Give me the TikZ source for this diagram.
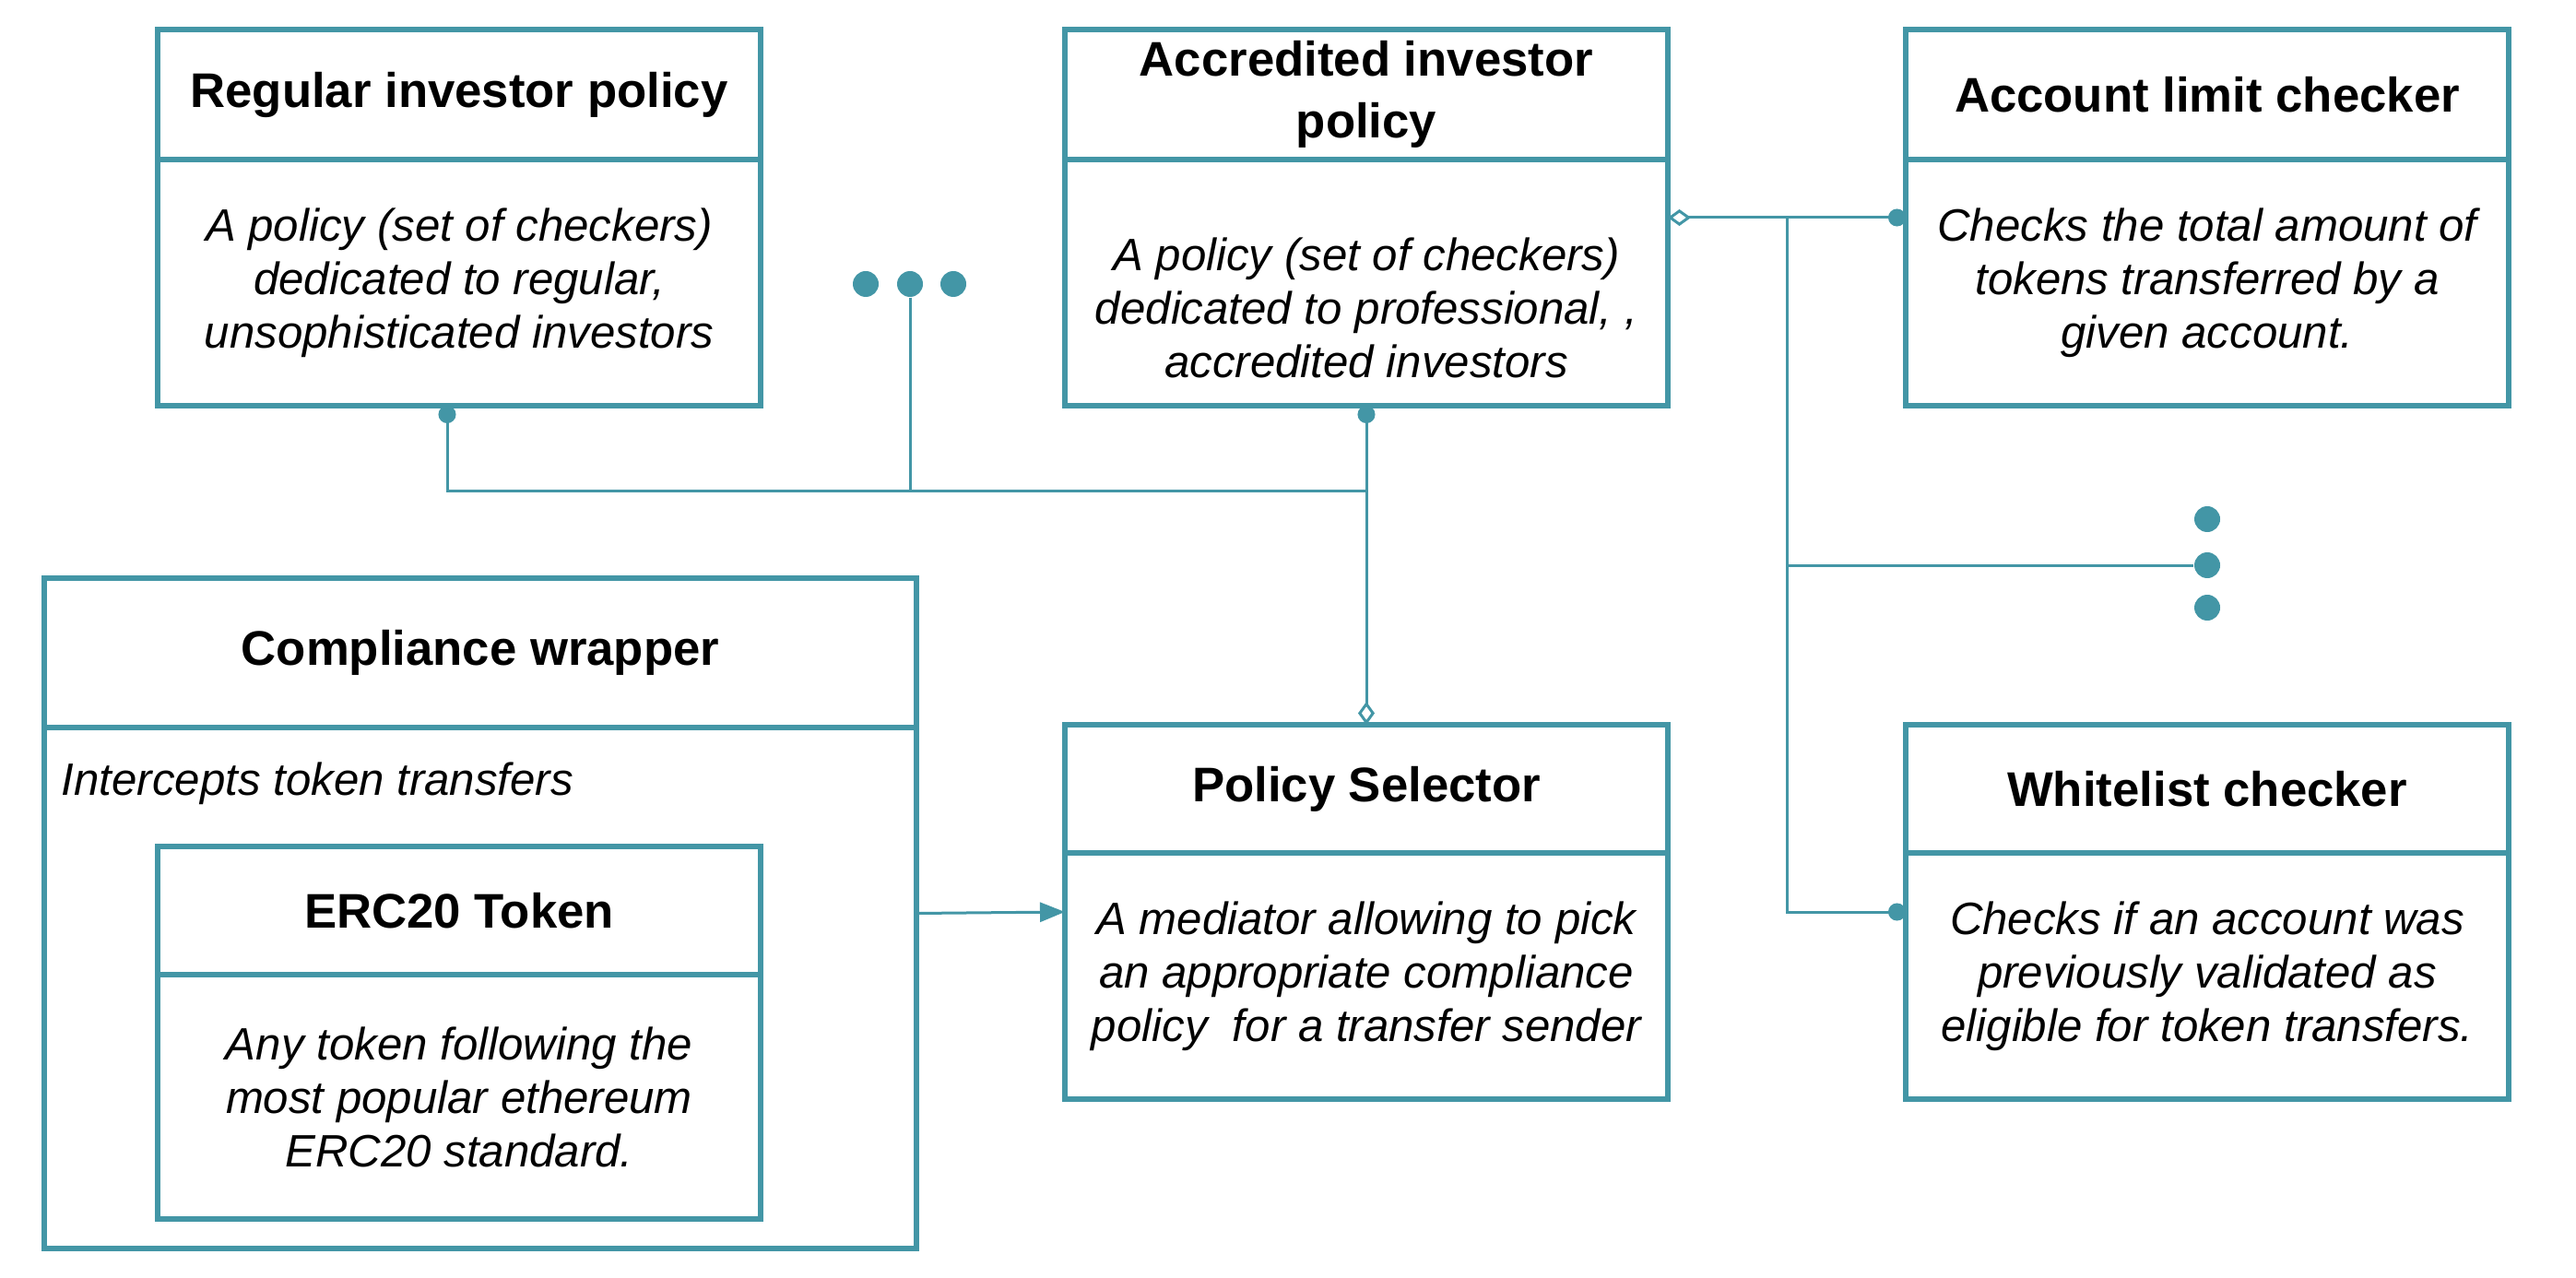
\documentclass[tikz,border=0pt]{standalone}
\usepackage{fontspec}
\setmainfont{Liberation Sans}
\usepackage{tikz}
\usetikzlibrary{shapes,arrows.meta}

\definecolor{umlteal}{RGB}{67,150,166}
% header and body parts of the boxes
\newcommand{\hd}[3]{\parbox[c][#2][c]{#1}{\centering\bfseries\fontsize{15}{19}\selectfont #3}}
\newcommand{\bd}[3]{\parbox[c][#2][c]{#1}{\centering\itshape\fontsize{14}{16.5}\selectfont #3}}

\begin{document}
\begin{tikzpicture}
      \tikzstyle{umlbox}=[rectangle split, rectangle split parts=2, draw=umlteal, line width=0.055cm, inner sep=0pt, outer sep=0pt, anchor=north west]
      \tikzstyle{link}=[draw=umlteal, line width=0.03cm]
      \tikzstyle{dot}=[circle, fill=umlteal, inner sep=0pt, minimum size=0.28cm]
      \useasboundingbox (0,0) rectangle (27.94,-13.86);
      % policies and checkers
      \node[umlbox] (reg) at (1.71,-0.32) {\hd{6.54cm}{1.355cm}{Regular investor policy}\nodepart{two}\bd{6.54cm}{2.615cm}{A policy (set of checkers)\\dedicated to regular,\\unsophisticated investors}};
      \node[umlbox] (accr) at (11.55,-0.32) {\hd{6.54cm}{1.355cm}{Accredited investor\\policy}\nodepart{two}\bd{6.54cm}{2.615cm}{\vspace*{0.54cm}A policy (set of checkers)\\dedicated to professional, ,\\accredited investors}};
      \node[umlbox] (limit) at (20.67,-0.32) {\hd{6.54cm}{1.355cm}{Account limit checker}\nodepart{two}\bd{6.54cm}{2.615cm}{Checks the total amount of\\tokens transferred by a\\given account.}};
      \node[umlbox] (wrap) at (0.48,-6.27) {\hd{9.46cm}{1.565cm}{Compliance wrapper}\nodepart{two}\parbox[c][5.595cm]{9.46cm}{}};
      \node[anchor=west, inner sep=0pt, font=\itshape\fontsize{14}{16.5}\selectfont] (intercept) at (0.66,-8.50) {Intercepts token transfers};
      \node[umlbox] (erc) at (1.71,-9.18) {\hd{6.54cm}{1.335cm}{ERC20 Token}\nodepart{two}\bd{6.54cm}{2.595cm}{Any token following the\\most popular ethereum\\ERC20 standard.}};
      \node[umlbox] (sel) at (11.55,-7.86) {\hd{6.54cm}{1.335cm}{Policy Selector}\nodepart{two}\bd{6.54cm}{2.615cm}{A mediator allowing to pick\\an appropriate compliance\\policy\ \ for a transfer sender}};
      \node[umlbox] (white) at (20.67,-7.86) {\hd{6.54cm}{1.335cm}{Whitelist checker}\nodepart{two}\bd{6.54cm}{2.615cm}{Checks if an account was\\previously validated as\\eligible for token transfers.}};
      % ellipsis dots
      \node[dot] (d1) at (9.39,-3.08) {};
      \node[dot] (d2) at (9.87,-3.08) {};
      \node[dot] (d3) at (10.34,-3.08) {};
      \node[dot] (v1) at (23.94,-5.63) {};
      \node[dot] (v2) at (23.94,-6.13) {};
      \node[dot] (v3) at (23.94,-6.59) {};
      \coordinate (join) at (14.82,-5.33);
      \coordinate (bus) at (19.38,-2.37);
      % connectors
      \draw[link, {Circle[length=0.19cm]}-] ([xshift=-0.13cm]reg.south) |- (join);
      \draw[link] (d2) -- (d2 |- join);
      \draw[link, {Circle[length=0.19cm]}-{Diamond[open,length=0.25cm,width=0.18cm]}] (accr.south) -- (sel.north);
      \draw[link, {Diamond[open,length=0.25cm,width=0.18cm]}-{Circle[length=0.19cm]}] (accr.east) -- (limit.west);
      \draw[link, -{Circle[length=0.19cm]}] (bus) |- (white.west);
      \draw[link] (bus |- v2) -- (v2);
      \draw[link, -{Triangle[length=0.27cm,width=0.21cm]}] (wrap.east) -- (sel.west);
\end{tikzpicture}
\end{document}
